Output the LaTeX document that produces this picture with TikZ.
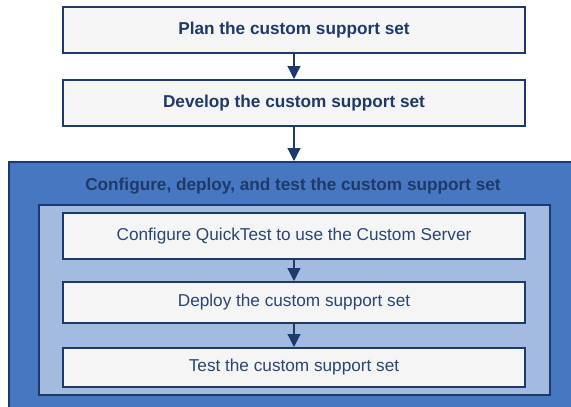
\documentclass[tikz,border=0pt]{standalone}
\usepackage{fontspec}
\setmainfont{Liberation Sans}
\usetikzlibrary{arrows.meta}
\definecolor{navy}{HTML}{1C3A6B}
\definecolor{txtnavy}{HTML}{1F3A68}
\definecolor{txtplain}{HTML}{2A4675}
\definecolor{outerblue}{HTML}{4877C2}
\definecolor{lightblue}{HTML}{A3BBDF}
\definecolor{boxfill}{HTML}{F5F5F5}
\tikzset{
  stepbox/.style={draw=navy, line width=1.6pt, fill=boxfill, minimum width=462pt, minimum height=46pt, inner sep=0pt, anchor=north},
  boldtxt/.style={font=\fontsize{17.2}{19}\selectfont\bfseries, text=txtnavy},
  plaintxt/.style={font=\fontsize{17.2}{19}\selectfont, text=txtplain},
  flow/.style={draw=navy, line width=1.2pt, -{Triangle[width=13pt,length=13pt]}, color=navy}
}
\begin{document}
\begin{tikzpicture}[x=1pt,y=-1pt]
\useasboundingbox (0,0) rectangle (571,407);
\begin{scope}
\clip (0,0) rectangle (571,407);
\node[draw=navy, line width=1.6pt, fill=outerblue, minimum width=575pt, minimum height=260pt, inner sep=0pt, anchor=north west] (outer) at (8,161) {};
\end{scope}
\node[boldtxt] (title) at (293,186) {Configure, deploy, and test the custom support set};
\node[draw=navy, line width=1.6pt, fill=lightblue, minimum width=511pt, minimum height=190pt, inner sep=0pt, anchor=north west] (inner) at (38,204) {};
\node[stepbox, boldtxt, minimum height=46pt] (plan) at (294,6) {Plan the custom support set};
\node[stepbox, boldtxt, minimum height=46pt] (dev) at (294,79) {Develop the custom support set};
\node[stepbox, plaintxt, minimum height=46pt] (conf) at (294,212) {Configure QuickTest to use the Custom Server};
\node[stepbox, plaintxt, minimum height=41pt] (depl) at (294,281) {Deploy the custom support set};
\node[stepbox, plaintxt, minimum height=39pt] (test) at (294,347) {Test the custom support set};
\draw[flow] (plan.south) -- (dev.north);
\draw[flow] (dev.south) -- (outer.north -| dev.south);
\draw[flow] (conf.south) -- (depl.north);
\draw[flow] (depl.south) -- (test.north);
\end{tikzpicture}
\end{document}
